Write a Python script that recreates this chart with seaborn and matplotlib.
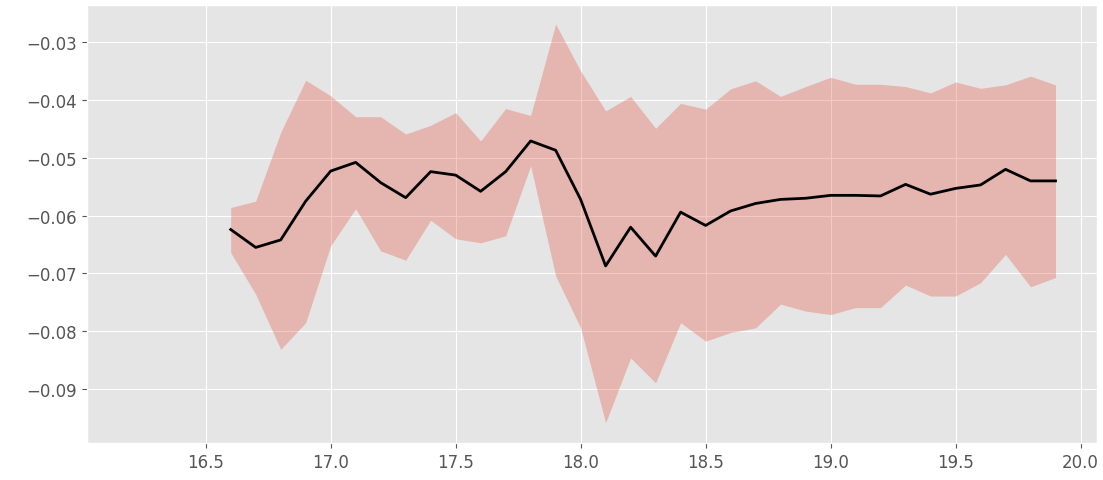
import numpy as np
import pandas as pd
import matplotlib
matplotlib.use("Agg")
import matplotlib.pyplot as plt
import seaborn as sns

x_vals = [16.6, 16.7, 16.8, 16.9, 17.0, 17.1, 17.2, 17.3, 17.4, 17.5, 17.6, 17.7,
          17.8, 17.9, 18.0, 18.1, 18.2, 18.3, 18.4, 18.5, 18.6, 18.7, 18.8, 18.9,
          19.0, 19.1, 19.2, 19.3, 19.4, 19.5, 19.6, 19.7, 19.8, 19.9]
mean_vals = [-0.0624, -0.0655, -0.0642, -0.0575, -0.0523, -0.0508, -0.0543, -0.0569,
             -0.0524, -0.0530, -0.0558, -0.0524, -0.0471, -0.0487, -0.0572, -0.0687,
             -0.0620, -0.0670, -0.0594, -0.0617, -0.0592, -0.0579, -0.0572, -0.0570,
             -0.0565, -0.0565, -0.0566, -0.0546, -0.0563, -0.0553, -0.0547, -0.0520,
             -0.0540, -0.0540]
upper_vals = [-0.0586, -0.0575, -0.0456, -0.0366, -0.0393, -0.0429, -0.0429, -0.0459,
              -0.0444, -0.0422, -0.0471, -0.0415, -0.0427, -0.0269, -0.0350, -0.0419,
              -0.0394, -0.0449, -0.0406, -0.0416, -0.0381, -0.0367, -0.0394, -0.0377,
              -0.0361, -0.0373, -0.0373, -0.0377, -0.0388, -0.0369, -0.0380, -0.0374,
              -0.0359, -0.0374]
lower_vals = [-0.0664, -0.0736, -0.0831, -0.0785, -0.0652, -0.0588, -0.0661, -0.0677,
              -0.0608, -0.0640, -0.0647, -0.0635, -0.0514, -0.0704, -0.0794, -0.0958,
              -0.0846, -0.0889, -0.0785, -0.0817, -0.0802, -0.0794, -0.0753, -0.0765,
              -0.0771, -0.0759, -0.0759, -0.0720, -0.0739, -0.0739, -0.0716, -0.0667,
              -0.0723, -0.0707]

df = pd.DataFrame({"x": x_vals, "mean": mean_vals, "upper": upper_vals, "lower": lower_vals})

plt.style.use("ggplot")
fig = plt.figure(figsize=(11.03, 4.81), dpi=100)
ax = fig.add_axes([87 / 1103, 1 - 444 / 481, (1097 - 87) / 1103, (444 - 6) / 481])

ax.fill_between(df["x"], df["lower"], df["upper"], color="#E24A33", alpha=0.3, linewidth=0)
sns.lineplot(data=df, x="x", y="mean", color="black", linewidth=2, ax=ax)

ax.set_xlim(16.025, 20.066)
ax.set_ylim(-0.0993, -0.0236)
ax.set_xlabel("")
ax.set_ylabel("")
ax.tick_params(labelsize=12)

fig.savefig("out.png", dpi=100)
